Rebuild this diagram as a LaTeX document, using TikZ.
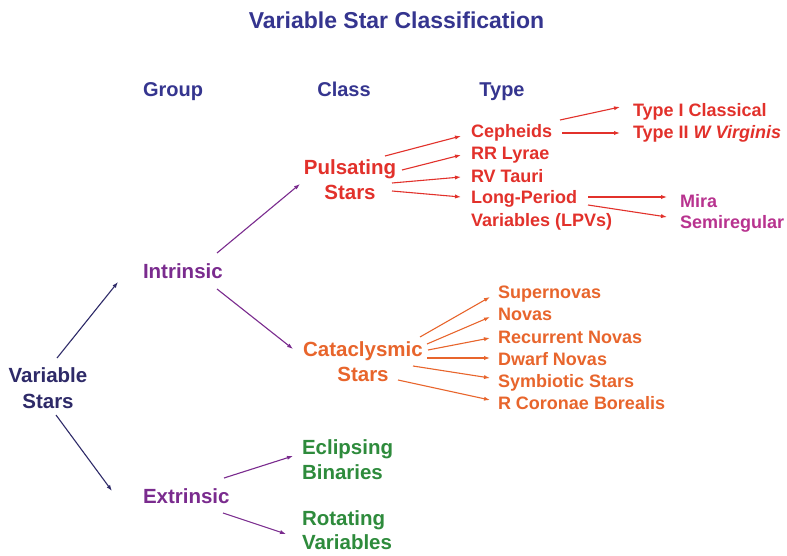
\documentclass[tikz,border=0pt]{standalone}
\usepackage{fontspec}
\setmainfont{Liberation Sans}
\usetikzlibrary{arrows.meta}
\definecolor{hdr}{HTML}{35358F}
\definecolor{navy}{HTML}{2E2A68}
\definecolor{purp}{HTML}{7A2B8E}
\definecolor{redc}{HTML}{E2312B}
\definecolor{mag}{HTML}{B8338F}
\definecolor{orng}{HTML}{E8652C}
\definecolor{grn}{HTML}{2E8B3C}
\newcommand{\twol}[3]{\begin{tabular}[t]{@{}#1@{}}#2\\#3\end{tabular}}
\tikzset{
  lbl/.style={inner sep=0pt, outer sep=0pt, font=\bfseries\fontsize{18}{24}\selectfont},
  big/.style={inner sep=0pt, outer sep=0pt, font=\bfseries\fontsize{20.5}{25}\selectfont},
  hd/.style={inner sep=0pt, font=\bfseries\fontsize{20}{24}\selectfont, text=hdr, anchor=base},
  arr/.style={line width=1.1pt, -{Latex[length=6pt,width=4.2pt]}},
}
\begin{document}
\begin{tikzpicture}[x=1pt,y=-1pt]
\useasboundingbox (0,0) rectangle (787,556);
\fill[white] (0,0) rectangle (787,556);
% title and headers
\node[inner sep=0pt, font=\bfseries\fontsize{23}{27}\selectfont, text=hdr, anchor=base] (title) at (396.5,29) {Variable Star Classification};
\node[hd] (group) at (173,97) {Group};
\node[hd] (class) at (344,97) {Class};
\node[hd] (type) at (502,97) {Type};
% group level
\node[big, text=navy, anchor=base, font=\bfseries\fontsize{20.5}{26}\selectfont] (vs) at (48,382) {\twol{c}{Variable}{Stars}};
\node[big, text=purp, anchor=base west] (intr) at (143,278.3) {Intrinsic};
\node[big, text=purp, anchor=base west] (extr) at (143,503.3) {Extrinsic};
% class level
\node[big, text=redc, anchor=base] (pul) at (350,174.3) {\twol{c}{Pulsating}{Stars}};
\node[big, text=orng, anchor=base] (cat) at (363,356.3) {\twol{c}{Cataclysmic}{Stars}};
\node[big, text=grn, anchor=base west] (ecl) at (302,454.3) {\twol{l}{Eclipsing}{Binaries}};
\node[big, text=grn, anchor=base west, font=\bfseries\fontsize{20.5}{24}\selectfont] (rot) at (302,525.3) {\twol{l}{Rotating}{Variables}};
% types
\node[lbl, text=redc, anchor=base west] (ceph) at (471,137.5) {Cepheids};
\node[lbl, text=redc, anchor=base west] (rr) at (471,159.5) {RR Lyrae};
\node[lbl, text=redc, anchor=base west] (rv) at (471,182.5) {RV Tauri};
\node[lbl, text=redc, anchor=base west, font=\bfseries\fontsize{18}{23}\selectfont] (lpv) at (471,203.5) {\twol{l}{Long-Period}{Variables (LPVs)}};
\node[lbl, text=redc, anchor=base west] (t1) at (633,116.5) {Type I Classical};
\node[lbl, text=redc, anchor=base west] (t2) at (633,138.5) {Type II \textit{W Virginis}};
\node[lbl, text=mag, anchor=base west] (mira) at (680,207.5) {Mira};
\node[lbl, text=mag, anchor=base west] (semi) at (680,228.5) {Semiregular};
\node[lbl, text=orng, anchor=base west] (sn) at (498,298.5) {Supernovas};
\node[lbl, text=orng, anchor=base west] (nov) at (498,320.5) {Novas};
\node[lbl, text=orng, anchor=base west] (rec) at (498,343) {Recurrent Novas};
\node[lbl, text=orng, anchor=base west] (dwf) at (498,365.5) {Dwarf Novas};
\node[lbl, text=orng, anchor=base west] (sym) at (498,387.5) {Symbiotic Stars};
\node[lbl, text=orng, anchor=base west] (rcb) at (498,409.5) {R Coronae Borealis};
% arrows
\draw[arr, navy] ([shift={(9,-24)}]vs.base) -- ([shift={(-25,3.7)}]intr.base west);
\draw[arr, navy] ([shift={(8,33)}]vs.base) -- ([shift={(-31,-12.3)}]extr.base west);
\draw[arr, purp] ([shift={(74,-25.3)}]intr.base west) -- ([shift={(-50,9.7)}]pul.base);
\draw[arr, purp] ([shift={(74,10.7)}]intr.base west) -- ([shift={(-70,-7.3)}]cat.base);
\draw[arr, purp] ([shift={(81,-25.3)}]extr.base west) -- ([shift={(-9,1.7)}]ecl.base west);
\draw[arr, purp] ([shift={(80,9.7)}]extr.base west) -- ([shift={(-16,8.7)}]rot.base west);
\draw[arr, redc] ([shift={(35,-18.3)}]pul.base) -- ([shift={(-10,-1.5)}]ceph.base west);
\draw[arr, redc] ([shift={(52,-4.3)}]pul.base) -- ([shift={(-10,-4.5)}]rr.base west);
\draw[arr, redc] ([shift={(42,8.7)}]pul.base) -- ([shift={(-10,-5.5)}]rv.base west);
\draw[arr, redc] ([shift={(42,16.7)}]pul.base) -- ([shift={(-10,-6.5)}]lpv.base west);
\draw[arr, redc] ([shift={(89,-17.5)}]ceph.base west) -- ([shift={(-13,-9.5)}]t1.base west);
\draw[arr, redc] ([shift={(91,-4.5)}]ceph.base west) -- ([shift={(-13,-5.5)}]t2.base west);
\draw[arr, redc] ([shift={(117,-6.5)}]lpv.base west) -- ([shift={(-13,-10.5)}]mira.base west);
\draw[arr, redc] ([shift={(117,1.5)}]lpv.base west) -- ([shift={(-13,-11.5)}]semi.base west);
\draw[arr, orng] ([shift={(57,-19.3)}]cat.base) -- ([shift={(-8,-1.5)}]sn.base west);
\draw[arr, orng] ([shift={(64,-12.3)}]cat.base) -- ([shift={(-8,-3.5)}]nov.base west);
\draw[arr, orng] ([shift={(65,-6.3)}]cat.base) -- ([shift={(-8,-5)}]rec.base west);
\draw[arr, orng] ([shift={(64,1.7)}]cat.base) -- ([shift={(-8,-7.5)}]dwf.base west);
\draw[arr, orng] ([shift={(50,9.7)}]cat.base) -- ([shift={(-8,-9.5)}]sym.base west);
\draw[arr, orng] ([shift={(35,23.7)}]cat.base) -- ([shift={(-8,-9.5)}]rcb.base west);
\end{tikzpicture}
\end{document}
